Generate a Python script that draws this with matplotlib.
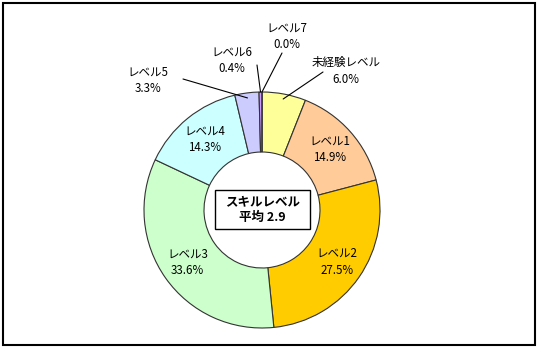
import numpy as np
import matplotlib
matplotlib.use("Agg")
import matplotlib.pyplot as plt
from matplotlib.patches import Rectangle

plt.rcParams["font.family"] = ["Noto Sans CJK JP", "DejaVu Sans"]

# datos
niveles = ["未経験レベル", "レベル1", "レベル2", "レベル3", "レベル4", "レベル5", "レベル6", "レベル7"]
porcentajes = [6.0, 14.9, 27.5, 33.6, 14.3, 3.3, 0.4, 0.0]
colores = ["#FFFF99", "#FFCC99", "#FFCC00", "#CCFFCC", "#CCFFFF", "#CCCCFF", "#CC99FF", "#9999FF"]
titulo_centro = "スキルレベル\n平均 2.9"

W, H = 541, 352
CX, CY = 262, H - 210
R = 118
ANCHO = 60

# etiquetas externas: (posicion del texto, fin de la linea) en pixeles
externas = {
    "未経験レベル": ((346, 71), (323, 72)),
    "レベル5": ((148, 80), (183, 79)),
    "レベル6": ((232, 60), (257, 65)),
    "レベル7": ((287, 36), (282, 53)),
}

fig = plt.figure(figsize=(W / 100, H / 100), dpi=100)
ax = fig.add_axes([0, 0, 1, 1])

wedges, _ = ax.pie(
    porcentajes,
    colors=colores,
    startangle=90,
    counterclock=False,
    center=(CX, CY),
    radius=R,
    frame=True,
    wedgeprops={"width": ANCHO, "edgecolor": "#333333", "linewidth": 0.8},
)
ax.set_xlim(0, W)
ax.set_ylim(0, H)
ax.set_aspect("equal")
ax.axis("off")

for w, nombre, v in zip(wedges, niveles, porcentajes):
    ang = np.deg2rad((w.theta1 + w.theta2) / 2)
    etiqueta = f"{nombre}\n{v:.1f}%"
    if nombre in externas:
        (tx, ty), (lx, ly) = externas[nombre]
        r_pt = R - 5 if v > 1 else R
        px = CX + r_pt * np.cos(ang)
        py = CY + r_pt * np.sin(ang)
        ax.annotate("", xy=(px, py), xytext=(lx, H - ly),
                    arrowprops=dict(arrowstyle="-", color="black", lw=0.8,
                                    shrinkA=0, shrinkB=0))
        ax.text(tx, H - ty, etiqueta, ha="center", va="center", fontsize=8.3,
                color="black", linespacing=1.35)
    else:
        r_lbl = 91
        ax.text(CX + r_lbl * np.cos(ang), CY + r_lbl * np.sin(ang), etiqueta,
                ha="center", va="center", fontsize=8.3, color="black", linespacing=1.35)

# cuadro central
ax.add_patch(Rectangle((215, H - 229), 95, 39, facecolor="white", edgecolor="black", lw=1.0))
ax.text(262.5, H - 209.5, titulo_centro, ha="center", va="center", fontsize=9,
        fontweight="bold", linespacing=1.2)

# marco exterior
ax.add_patch(Rectangle((3, H - 345), 532, 342, facecolor="none", edgecolor="black", lw=1.5))

fig.savefig("out.png", dpi=100, facecolor="white")
